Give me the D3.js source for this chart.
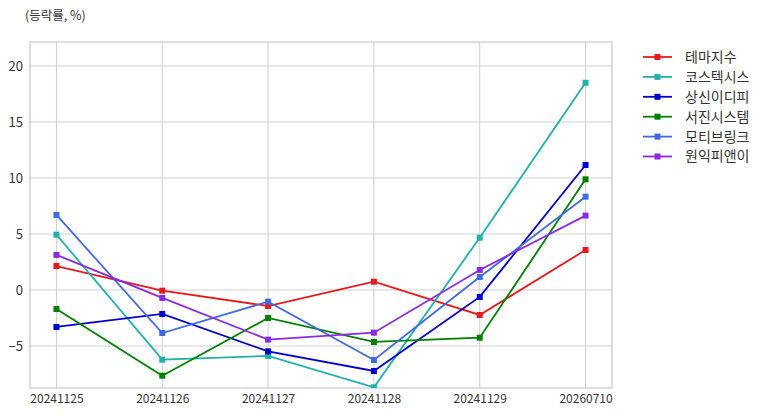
<!DOCTYPE html>
<html>
<head>
<meta charset="utf-8">
<script src="https://cdn.jsdelivr.net/npm/d3@7"></script>
<style>
  body { margin: 0; background: #fff; }
  text { font-family: "Noto Sans CJK KR", "Noto Sans", sans-serif; }
</style>
</head>
<body>
<div id="chart"></div>
<script>
// Data
var dates = ["20241125", "20241126", "20241127", "20241128", "20241129", "20260710"];
var seriesNames = ["테마지수", "코스텍시스", "상신이디피", "서진시스템", "모티브링크", "원익피앤이"];
var seriesColors = ["#e41a1c", "#20b2aa", "#0000cd", "#008000", "#4169e1", "#8a2be2"];

var themeIndex = [2.14, -0.06, -1.43, 0.74, -2.23, 3.57];
var costexsys = [4.94, -6.22, -5.89, -8.69, 4.67, 18.5];
var sangsinEdp = [-3.3, -2.14, -5.48, -7.23, -0.62, 11.16];
var seojinSystem = [-1.7, -7.65, -2.5, -4.64, -4.26, 9.88];
var motivLink = [6.7, -3.84, -1.04, -6.25, 1.16, 8.33];
var wonikPne = [3.13, -0.71, -4.43, -3.81, 1.79, 6.64];

var yTicks = [-5, 0, 5, 10, 15, 20];
var yTitle = "(등락률, %)";

var allValues = [themeIndex, costexsys, sangsinEdp, seojinSystem, motivLink, wonikPne];

// Canvas
var W = 768, H = 416;
var margin = { top: 42, right: 156, bottom: 28, left: 30 };
var width = W - margin.left - margin.right;
var height = H - margin.top - margin.bottom;

var svg = d3.select("#chart").append("svg")
    .attr("width", W)
    .attr("height", H);

var g = svg.append("g")
    .attr("transform", "translate(" + margin.left + "," + margin.top + ")");

var x = d3.scalePoint()
    .domain(dates)
    .range([0, width])
    .padding(0.25);

var y = d3.scaleLinear()
    .domain([-8.75, 22.14])
    .range([height, 0]);

// grid
g.selectAll(".hgrid").data(yTicks).enter().append("line")
    .attr("x1", 0).attr("x2", width)
    .attr("y1", function(d) { return y(d); })
    .attr("y2", function(d) { return y(d); })
    .style("stroke", "#d0d0d0").style("stroke-width", 1);

g.selectAll(".vgrid").data(dates).enter().append("line")
    .attr("x1", function(d) { return x(d); })
    .attr("x2", function(d) { return x(d); })
    .attr("y1", 0).attr("y2", height)
    .style("stroke", "#d0d0d0").style("stroke-width", 1);

// frame
g.append("rect")
    .attr("width", width).attr("height", height)
    .style("fill", "none").style("stroke", "#c8c8c8").style("stroke-width", 1.2);

// axes
var xAxis = g.append("g")
    .attr("transform", "translate(0," + height + ")")
    .call(d3.axisBottom(x).tickSize(0).tickPadding(6));
xAxis.select(".domain").remove();
xAxis.selectAll("text").style("font-size", "12px").style("fill", "#333");

var yAxis = g.append("g")
    .call(d3.axisLeft(y).tickValues(yTicks).tickSize(0).tickPadding(7));
yAxis.select(".domain").remove();
yAxis.selectAll("text").style("font-size", "13px").style("fill", "#333");

// clip
svg.append("clipPath").attr("id", "plotclip")
    .append("rect").attr("width", width).attr("height", height);

var line = d3.line()
    .x(function(d, i) { return x(dates[i]); })
    .y(function(d) { return y(d); });

var plot = g.append("g").attr("clip-path", "url(#plotclip)");

allValues.forEach(function(vals, k) {
    plot.append("path")
        .attr("d", line(vals))
        .style("fill", "none")
        .style("stroke", seriesColors[k])
        .style("stroke-width", 1.8);
    plot.selectAll(".m" + k).data(vals).enter().append("rect")
        .attr("x", function(d, i) { return x(dates[i]) - 3; })
        .attr("y", function(d) { return y(d) - 3; })
        .attr("width", 6).attr("height", 6)
        .style("fill", seriesColors[k]);
});

// title
svg.append("text")
    .attr("x", 25).attr("y", 20)
    .style("font-size", "12.5px").style("fill", "#333")
    .text(yTitle);

// legend
var legend = svg.append("g").attr("transform", "translate(643,57)");
seriesNames.forEach(function(name, k) {
    var row = legend.append("g").attr("transform", "translate(0," + (k * 19.9) + ")");
    row.append("line").attr("x1", 0).attr("x2", 29).attr("y1", 0).attr("y2", 0)
        .style("stroke", seriesColors[k]).style("stroke-width", 1.8);
    row.append("rect").attr("x", 11.5).attr("y", -3).attr("width", 6).attr("height", 6)
        .style("fill", seriesColors[k]);
    row.append("text").attr("x", 42).attr("y", 0).attr("dy", "0.35em")
        .style("font-size", "14px").style("fill", "#333")
        .text(name);
});
</script>
</body>
</html>
